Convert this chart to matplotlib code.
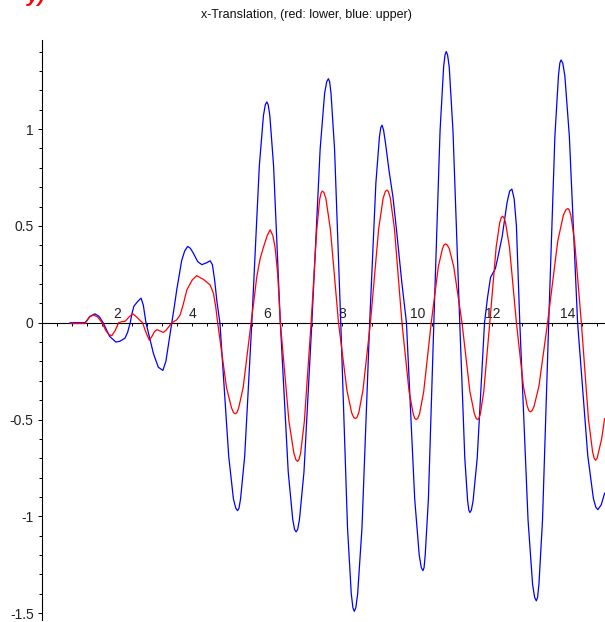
"""x-Translation of the lower and upper point over time."""

import matplotlib
matplotlib.use('Agg')
import matplotlib.pyplot as plt
import numpy as np

# Upper (blue) curve as (time, x-translation).
upper_points = [
    (0.75, 0.0), (1.15, 0.0), (1.28, 0.033), (1.41, 0.046), (1.52, 0.033),
    (1.63, 0.0), (1.80, -0.07), (1.97, -0.10), (2.08, -0.095), (2.21, -0.08),
    (2.28, -0.05), (2.35, 0.0), (2.40, 0.05), (2.45, 0.086), (2.55, 0.11),
    (2.64, 0.127), (2.70, 0.09), (2.77, 0.0), (2.87, -0.08), (2.97, -0.16),
    (3.10, -0.23), (3.22, -0.246), (3.30, -0.20), (3.38, -0.10), (3.46, 0.0),
    (3.53, 0.09), (3.59, 0.17), (3.66, 0.25), (3.72, 0.32), (3.80, 0.37),
    (3.88, 0.394), (3.95, 0.385), (4.03, 0.36), (4.15, 0.315), (4.26, 0.30),
    (4.39, 0.31), (4.48, 0.32), (4.54, 0.30), (4.60, 0.22), (4.66, 0.11),
    (4.74, 0.0), (4.975, -0.69), (5.10, -0.91), (5.163, -0.958), (5.21, -0.97),
    (5.248, -0.958), (5.29, -0.91), (5.40, -0.69), (5.59, 0.0), (5.79, 0.81),
    (5.90, 1.07), (5.95, 1.126), (5.99, 1.14), (6.026, 1.126), (6.07, 1.07),
    (6.17, 0.81), (6.35, 0.0), (6.56, -0.77), (6.68, -1.015), (6.728, -1.067),
    (6.77, -1.08), (6.812, -1.067), (6.86, -1.015), (6.98, -0.77), (7.19, 0.0),
    (7.41, 0.895), (7.53, 1.185), (7.586, 1.245), (7.63, 1.26), (7.663, 1.245),
    (7.70, 1.185), (7.795, 0.895), (7.96, 0.0), (8.14, -1.06), (8.24, -1.40),
    (8.284, -1.472), (8.32, -1.49), (8.361, -1.472), (8.41, -1.40), (8.525, -1.06),
    (8.73, 0.0), (8.895, 0.72), (8.99, 0.96), (9.027, 1.008), (9.06, 1.02),
    (9.10, 0.995), (9.15, 0.93), (9.25, 0.78), (9.35, 0.65), (9.45, 0.47),
    (9.58, 0.22), (9.71, 0.0), (9.93, -0.91), (10.05, -1.20), (10.106, -1.265),
    (10.15, -1.28), (10.179, -1.265), (10.21, -1.20), (10.295, -0.91), (10.44, 0.0),
    (10.605, 0.99), (10.70, 1.32), (10.737, 1.383), (10.77, 1.40), (10.806, 1.383),
    (10.85, 1.32), (10.95, 0.99), (11.13, 0.0), (11.265, -0.70), (11.34, -0.92),
    (11.373, -0.968), (11.40, -0.98), (11.439, -0.968), (11.485, -0.92), (11.595, -0.70),
    (11.79, 0.0), (11.87, 0.13), (11.95, 0.234), (12.08, 0.28), (12.17, 0.36),
    (12.26, 0.445), (12.39, 0.62), (12.46, 0.68), (12.52, 0.69), (12.58, 0.64),
    (12.64, 0.50), (12.73, 0.0), (12.95, -1.02), (13.07, -1.35), (13.126, -1.419),
    (13.17, -1.436), (13.203, -1.419), (13.24, -1.35), (13.335, -1.02), (13.50, 0.0),
    (13.665, 0.963), (13.76, 1.276), (13.797, 1.341), (13.83, 1.357), (13.874, 1.341),
    (13.93, 1.276), (14.05, 0.963), (14.27, 0.0), (14.54, -0.685), (14.69, -0.907),
    (14.756, -0.953), (14.81, -0.965), (14.90, -0.94), (14.99, -0.88),
]

# Lower (red) curve.
lower_points = [
    (0.75, -0.004), (1.15, -0.004), (1.26, 0.03), (1.37, 0.04), (1.48, 0.03),
    (1.60, 0.0), (1.70, -0.04), (1.78, -0.06), (1.86, -0.067), (1.95, -0.04),
    (2.04, 0.0), (2.12, 0.005), (2.22, 0.008), (2.32, 0.03), (2.42, 0.046),
    (2.52, 0.03), (2.61, 0.012), (2.68, 0.0), (2.75, -0.04), (2.86, -0.091),
    (2.93, -0.07), (3.00, -0.045), (3.06, -0.036), (3.14, -0.042), (3.23, -0.05),
    (3.30, -0.04), (3.38, -0.02), (3.46, 0.0), (3.59, 0.015), (3.68, 0.04),
    (3.77, 0.10), (3.86, 0.17), (4.00, 0.22), (4.12, 0.243), (4.30, 0.224),
    (4.48, 0.195), (4.57, 0.15), (4.63, 0.08), (4.68, 0.0), (4.915, -0.334),
    (5.05, -0.44), (5.103, -0.464), (5.15, -0.47), (5.192, -0.464), (5.24, -0.44),
    (5.36, -0.334), (5.57, 0.0), (5.65, 0.12), (5.72, 0.234), (5.81, 0.33),
    (5.90, 0.39), (6.00, 0.45), (6.08, 0.48), (6.15, 0.45), (6.21, 0.39),
    (6.28, 0.25), (6.35, 0.0), (6.58, -0.51), (6.71, -0.673), (6.764, -0.707),
    (6.81, -0.716), (6.846, -0.707), (6.89, -0.673), (6.99, -0.51), (7.17, 0.0),
    (7.32, 0.48), (7.40, 0.64), (7.44, 0.672), (7.47, 0.68), (7.513, 0.672),
    (7.565, 0.64), (7.685, 0.48), (7.90, 0.0), (8.125, -0.35), (8.25, -0.465),
    (8.305, -0.489), (8.35, -0.495), (8.39, -0.489), (8.44, -0.465), (8.55, -0.35),
    (8.75, 0.0), (8.97, 0.486), (9.09, 0.644), (9.146, 0.677), (9.19, 0.685),
    (9.23, 0.677), (9.28, 0.644), (9.39, 0.486), (9.59, 0.0), (9.78, -0.355),
    (9.89, -0.47), (9.932, -0.494), (9.97, -0.50), (10.01, -0.494), (10.06, -0.47),
    (10.17, -0.355), (10.37, 0.0), (10.56, 0.29), (10.67, 0.383), (10.712, 0.402),
    (10.75, 0.407), (10.794, 0.402), (10.85, 0.383), (10.97, 0.29), (11.19, 0.0),
    (11.40, -0.355), (11.52, -0.47), (11.568, -0.494), (11.61, -0.50), (11.642, -0.494),
    (11.68, -0.47), (11.77, -0.355), (11.93, 0.0), (12.10, 0.39), (12.195, 0.517),
    (12.236, 0.543), (12.27, 0.55), (12.307, 0.543), (12.35, 0.517), (12.455, 0.39),
    (12.64, 0.0), (12.825, -0.327), (12.93, -0.432), (12.973, -0.454), (13.01, -0.46),
    (13.056, -0.454), (13.11, -0.432), (13.24, -0.327), (13.47, 0.0), (13.74, 0.42),
    (13.89, 0.555), (13.956, 0.583), (14.01, 0.59), (14.046, 0.583), (14.09, 0.555),
    (14.19, 0.42), (14.37, 0.0), (14.56, -0.50), (14.67, -0.667), (14.712, -0.70),
    (14.75, -0.71), (14.79, -0.70), (14.83, -0.667), (14.91, -0.60), (14.99, -0.495),
]

x_major = [2, 4, 6, 8, 10, 12, 14]
y_major = [-1.5, -1.0, -0.5, 0.0, 0.5, 1.0]
y_labels = ['-1.5', '-1', '-0.5', '0', '0.5', '1']


def main():

    plt.rcParams['font.family'] = ['Liberation Sans', 'DejaVu Sans']

    t_upper, x_upper = zip(*upper_points)
    t_lower, x_lower = zip(*lower_points)

    fig = plt.figure(figsize=(6.05, 6.22), dpi=100)
    ax = fig.add_axes([42 / 605, 2 / 622, 1 - 42 / 605, 580 / 622])

    ax.plot(t_upper, x_upper, color='#0000ff', lw=0.9, zorder=3)
    ax.plot(t_lower, x_lower, color='#ff0000', lw=0.9, zorder=4)

    ax.set_xlim(0, 15.0)
    ax.set_ylim(-1.535, 1.46)

    for side in ['top', 'right']:
        ax.spines[side].set_visible(False)
    ax.spines['left'].set_position(('data', 0))
    ax.spines['bottom'].set_position(('data', 0))
    ax.spines['left'].set_linewidth(0.8)
    ax.spines['bottom'].set_linewidth(0.8)

    ax.set_xticks(x_major)
    ax.set_xticks(np.arange(0.4, 15, 0.4), minor=True)
    ax.set_yticks(y_major)
    ax.set_yticklabels(y_labels)
    ax.set_yticks(np.arange(-1.5, 1.45, 0.1), minor=True)

    ax.tick_params(axis='x', which='major', length=2.5, width=0.7,
                   pad=-14, labelsize=10, labelcolor='#222222')
    ax.tick_params(axis='x', which='minor', length=2, width=0.7)
    ax.tick_params(axis='y', which='major', length=3, width=0.7,
                   pad=3, labelsize=10, labelcolor='#222222')
    ax.tick_params(axis='y', which='minor', length=2.5, width=0.7)

    fig.text(0.506, 0.976, 'x-Translation, (red: lower, blue: upper)',
             ha='center', va='center', fontsize=9, color='#111111')
    # red heading above the plot, only its lower edge shows in the picture
    fig.text(0.045, 1.006, 'y)', ha='left', va='center', fontsize=15,
             color='red', style='italic', weight='bold')

    fig.savefig('out.png', dpi=100)


if __name__ == '__main__':
    main()
